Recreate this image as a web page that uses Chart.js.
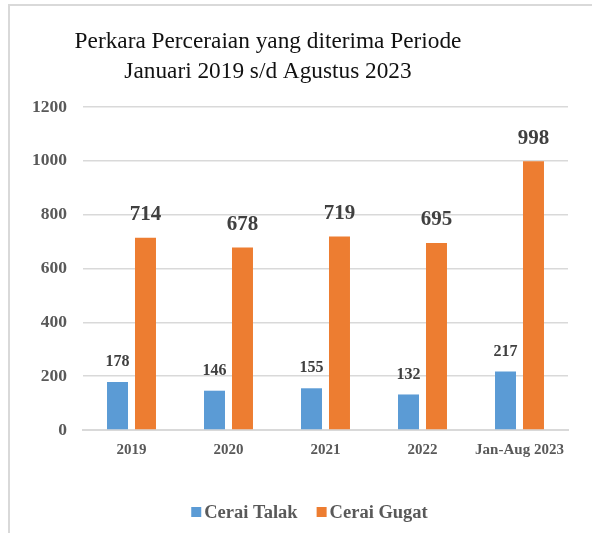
<!DOCTYPE html>
<html><head><meta charset="utf-8">
<script src="https://cdn.jsdelivr.net/npm/chart.js@4"></script>
<style>
html,body{margin:0;padding:0;background:#fff;}
#wrap{position:absolute;left:0;top:0;width:592px;height:533px;overflow:hidden;}
#frame{position:absolute;left:8px;top:4px;width:600px;height:600px;border-left:2px solid #d9d9d9;border-top:2px solid #d9d9d9;}
canvas{position:absolute;left:0;top:0;}
</style></head>
<body>
<div id="wrap"><div id="frame"></div><canvas id="c" width="592" height="533"></canvas></div>
<script>
const categories = ["2019","2020","2021","2022","Jan-Aug 2023"];
const ceraiTalak = [178,146,155,132,217];
const ceraiGugat = [714,678,719,695,998];
const yTicks = [0,200,400,600,800,1000,1200];
const titleLines = ['Perkara Perceraian yang diterima Periode','Januari 2019 s/d Agustus 2023'];
const SERIF = "'Liberation Serif', 'Times New Roman', serif";

const labelPlugin = {
  id:'lbl',
  afterDatasetsDraw(chart){
    const ctx = chart.ctx;
    chart.data.datasets.forEach((ds,i)=>{
      const meta = chart.getDatasetMeta(i);
      const size = i===0?16:21;
      const off = i===0?20:23;
      ctx.save();
      ctx.font = 'bold '+size+'px '+SERIF;
      ctx.fillStyle = '#404040';
      ctx.textAlign='center';ctx.textBaseline='middle';
      meta.data.forEach((el,j)=>{
        ctx.fillText(String(ds.data[j]), el.x, el.y-off);
      });
      ctx.restore();
    });
  }
};

const titleLegendPlugin = {
  id:'tl',
  afterDraw(chart){
    const ctx = chart.ctx;
    ctx.save();
    ctx.font = '23.3px '+SERIF;
    ctx.fillStyle='#111';ctx.textAlign='center';ctx.textBaseline='middle';
    ctx.fillText(titleLines[0],268,42);
    ctx.fillText(titleLines[1],268,72);
    // legend
    ctx.font='bold 18.5px '+SERIF;
    ctx.textAlign='left';
    const items = chart.data.datasets.map(d=>({t:d.label,c:d.backgroundColor,w:ctx.measureText(d.label).width}));
    const total = items.reduce((a,it)=>a+10+3+it.w,0)+19*(items.length-1);
    let x = 309.5-total/2;
    const y = 512;
    items.forEach(it=>{
      ctx.fillStyle=it.c; ctx.fillRect(x,y-5,10,10);
      x+=13;
      ctx.fillStyle='#595959'; ctx.fillText(it.t,x,y+1);
      x+=it.w+19;
    });
    ctx.restore();
  }
};

new Chart(document.getElementById('c'),{
  type:'bar',
  data:{labels:categories,datasets:[
    {label:'Cerai Talak',data:ceraiTalak,backgroundColor:'#5B9BD5',categoryPercentage:0.577,barPercentage:0.75},
    {label:'Cerai Gugat',data:ceraiGugat,backgroundColor:'#ED7D31',categoryPercentage:0.577,barPercentage:0.75}
  ]},
  options:{
    responsive:false,animation:false,
    layout:{padding:{left:0,right:24,top:107,bottom:63}},
    plugins:{
      title:{display:false},
      legend:{display:false},
      tooltip:{enabled:false}
    },
    scales:{
      x:{grid:{display:false,drawTicks:false},border:{display:true,color:'#d9d9d9',width:2},
        ticks:{color:'#595959',font:{family:SERIF,size:15,weight:'bold'},padding:11},
        afterFit(s){s.height=40;}},
      y:{min:0,max:1200,afterBuildTicks(s){s.ticks=yTicks.map(v=>({value:v}));},
        grid:{color:'#d9d9d9',lineWidth:1.5,drawTicks:false},border:{display:false},
        ticks:{color:'#595959',font:{family:SERIF,size:17.5,weight:'bold'},padding:16,callback:v=>String(v)},
        afterFit(s){s.width=83;}}
    }
  },
  plugins:[labelPlugin,titleLegendPlugin]
});
</script>
</body></html>
